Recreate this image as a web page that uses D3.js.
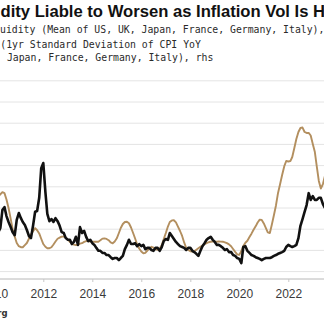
<!DOCTYPE html>
<html>
<head>
<meta charset="utf-8">
<script src="https://cdn.jsdelivr.net/npm/d3@7"></script>
<style>
  body { margin: 0; background: #fff; }
  svg { display: block; }
</style>
</head>
<body>
<div id="chart"></div>
<script>
// monthly readings, Jan 2010 .. Jul 2023
const startMonth = new Date(2010, 0, 1);
const endMonth = new Date(2023, 7, 1);

// Bond liquidity (mean of US, UK, Japan, France, Germany, Italy), lhs
const liquidity = [
  1.03, 1.08, 0.93, 1.03, 1.45, 1.52, 1.31, 1.17, 1.05, 0.93, 0.86, 1.22,
  1.38, 1.26, 1.17, 1.10, 0.98, 0.84, 0.79, 1.08, 1.41, 1.43, 1.74, 2.44,
  2.56, 1.88, 1.36, 1.19, 1.24, 1.17, 1.26, 1.19, 1.08, 0.93, 0.91, 0.79,
  0.75, 0.75, 0.65, 0.70, 0.82, 0.63, 1.05, 0.91, 0.96, 0.82, 0.72, 0.75,
  0.67, 0.63, 0.56, 0.49, 0.49, 0.44, 0.44, 0.39, 0.39, 0.34, 0.30, 0.32,
  0.32, 0.27, 0.32, 0.37, 0.53, 0.63, 0.75, 0.65, 0.65, 0.67, 0.60, 0.65,
  0.60, 0.63, 0.53, 0.56, 0.56, 0.51, 0.49, 0.56, 0.56, 0.49, 0.58, 0.72,
  0.77, 0.75, 0.91, 0.84, 0.77, 0.70, 0.65, 0.60, 0.58, 0.56, 0.51, 0.56,
  0.56, 0.49, 0.46, 0.42, 0.37, 0.49, 0.60, 0.67, 0.75, 0.79, 0.82, 0.75,
  0.70, 0.63, 0.63, 0.60, 0.56, 0.51, 0.53, 0.46, 0.46, 0.39, 0.37, 0.32,
  0.30, 0.20, 0.58, 0.60, 0.49, 0.44, 0.39, 0.37, 0.34, 0.32, 0.30, 0.27,
  0.30, 0.32, 0.32, 0.32, 0.34, 0.37, 0.39, 0.42, 0.44, 0.46, 0.49, 0.58,
  0.63, 0.60, 0.58, 0.60, 0.63, 0.79, 1.08, 1.24, 1.41, 1.57, 1.85, 1.69,
  1.78, 1.69, 1.69, 1.74, 1.74, 1.59, 1.50
];

// Inflation vol (1yr std dev of CPI YoY), rhs
const inflationVol = [
  0.63, 0.68, 0.71, 0.73, 0.75, 0.74, 0.68, 0.60, 0.50, 0.40, 0.33, 0.27,
  0.24, 0.23, 0.23, 0.25, 0.27, 0.31, 0.35, 0.38, 0.41, 0.39, 0.36, 0.31,
  0.26, 0.234, 0.22, 0.22, 0.23, 0.256, 0.284, 0.31, 0.32, 0.33, 0.33, 0.32,
  0.30, 0.28, 0.267, 0.254, 0.25, 0.255, 0.264, 0.268, 0.28, 0.287, 0.289, 0.284,
  0.282, 0.283, 0.282, 0.282, 0.295, 0.311, 0.313, 0.308, 0.296, 0.275, 0.267, 0.284,
  0.314, 0.364, 0.411, 0.449, 0.468, 0.47, 0.456, 0.416, 0.364, 0.312, 0.256, 0.218,
  0.19, 0.173, 0.177, 0.199, 0.22, 0.234, 0.226, 0.21, 0.206, 0.217, 0.249, 0.308,
  0.364, 0.425, 0.468, 0.483, 0.484, 0.465, 0.425, 0.383, 0.336, 0.275, 0.223, 0.204,
  0.192, 0.189, 0.192, 0.206, 0.22, 0.234, 0.246, 0.258, 0.268, 0.277, 0.282, 0.284,
  0.283, 0.282, 0.284, 0.283, 0.282, 0.276, 0.268, 0.257, 0.239, 0.213, 0.186, 0.163,
  0.158, 0.194, 0.242, 0.272, 0.291, 0.326, 0.358, 0.395, 0.427, 0.463, 0.49, 0.487,
  0.454, 0.411, 0.371, 0.364, 0.444, 0.534, 0.624, 0.742, 0.826, 0.911, 0.992, 1.043,
  1.039, 1.043, 1.081, 1.166, 1.251, 1.317, 1.355, 1.359, 1.317, 1.308, 1.308, 1.284,
  1.204, 1.128, 0.996, 0.855, 0.784, 0.826, 0.902
];

const yearTicks = [2010, 2012, 2014, 2016, 2018, 2020, 2022, 2024];
const lhsTicks = [0, 0.5, 1, 1.5, 2, 2.5, 3, 3.5, 4, 4.5];

const titleText = "Liquidity Liable to Worsen as Inflation Vol Is High";
const legendLines = [
  "Government Bond Liquidity (Mean of US, UK, Japan, France, Germany, Italy), lhs",
  "Inflation (1yr Standard Deviation of CPI YoY",
  "(US, UK, Japan, France, Germany, Italy), rhs"
];
const sourceText = "Source: Bloomberg";

const width = 324, height = 324;
const plotBottom = 279;

const months = d3.timeMonth.range(startMonth, endMonth);
const blackData = months.map((d, i) => ({ date: d, value: liquidity[i] }));
const goldData = months.map((d, i) => ({ date: d, value: inflationVol[i] }));

const svg = d3.select('#chart').append('svg')
    .attr('width', width).attr('height', height);

const x = d3.scaleTime()
    .domain([new Date(2012, 0, 1), new Date(2022, 0, 1)])
    .range([43.3, 288.3]);
const yL = d3.scaleLinear().domain([0, 4.5]).range([271.6, 80.8]);
const yR = d3.scaleLinear().domain([0, 1.8]).range([271.6, 80.8]);

// gridlines
svg.append('g')
    .selectAll('line')
    .data(lhsTicks)
    .enter().append('line')
    .attr('x1', 0).attr('x2', width)
    .attr('y1', d => yL(d)).attr('y2', d => yL(d))
    .attr('stroke', '#e4e4e4')
    .attr('stroke-width', 1);

// x axis
const xaxis = svg.append('g')
    .attr('transform', `translate(0,${plotBottom})`)
    .call(d3.axisBottom(x)
        .tickValues(yearTicks.map(yr => new Date(yr, 0, 1)))
        .tickFormat(d3.timeFormat('%Y'))
        .tickSize(3)
        .tickPadding(7));
xaxis.select('.domain').attr('stroke', '#b8b8b8').attr('d', `M-10,0H${width + 10}`);
xaxis.selectAll('.tick line').attr('stroke', '#c8c8c8');
xaxis.selectAll('.tick text')
    .attr('fill', '#3a3a3a')
    .style('font-family', '"Liberation Sans", Arial, sans-serif')
    .style('font-size', '12px');

// series
const goldLine = d3.line().x(d => x(d.date)).y(d => yR(d.value));
const blackLine = d3.line().x(d => x(d.date)).y(d => yL(d.value));

svg.append('path')
    .datum(goldData)
    .attr('d', goldLine)
    .attr('fill', 'none')
    .attr('stroke', '#b38f5f')
    .attr('stroke-width', 1.9)
    .attr('stroke-linejoin', 'round');

svg.append('path')
    .datum(blackData)
    .attr('d', blackLine)
    .attr('fill', 'none')
    .attr('stroke', '#111')
    .attr('stroke-width', 2.6)
    .attr('stroke-linejoin', 'round');

// text, shifted so only the part seen in the crop falls inside the frame
function placeText(sel, visibleFrom, targetX) {
    const node = sel.node();
    const off = visibleFrom > 0 ? node.getSubStringLength(0, visibleFrom) : 0;
    sel.attr('x', targetX - off);
}

const title = svg.append('text')
    .attr('y', 16.5)
    .style('font-family', '"Liberation Sans", Arial, sans-serif')
    .style('font-weight', 'bold')
    .style('font-size', '16px')
    .attr('fill', '#111')
    .text(titleText);
// fit size so "dity ... Is " spans the same width as in the reference
{
    const a = titleText.indexOf('dity');
    const b = titleText.indexOf('High');
    const w = title.node().getSubStringLength(a, b - a);
    title.style('font-size', (16 * 313 / w) + 'px');
    placeText(title, a, 0.5);
}

const legendY = [33, 47.5, 61];
const legendStart = [
    [legendLines[0].indexOf('uidity'), 0],
    [legendLines[1].indexOf('(1yr'), 0.3],
    [legendLines[2].indexOf(' Japan'), 1]
];
legendLines.forEach((t, i) => {
    const el = svg.append('text')
        .attr('y', legendY[i])
        .style('font-family', '"DejaVu Sans Mono", monospace')
        .style('font-size', '9.8px')
        .attr('fill', '#2a2a2a')
        .text(t);
    placeText(el, legendStart[i][0], legendStart[i][1]);
});

svg.append('text')
    .attr('x', 7.5).attr('y', 315.5)
    .attr('text-anchor', 'end')
    .style('font-family', '"DejaVu Sans", sans-serif')
    .style('font-weight', 'bold')
    .style('font-size', '8.5px')
    .attr('fill', '#333')
    .text(sourceText);
</script>
</body>
</html>
